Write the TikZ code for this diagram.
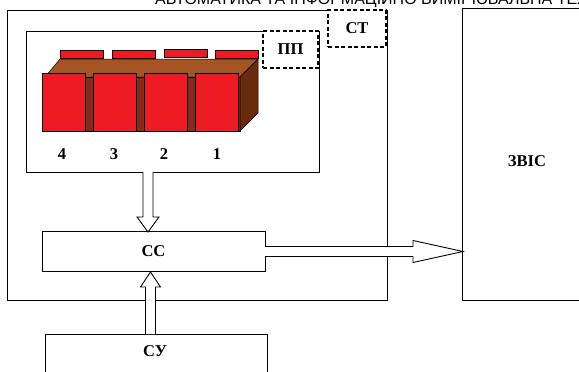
\documentclass[tikz,border=0pt]{standalone}
\usepackage{fontspec}
\setmainfont{Liberation Serif}
\newfontfamily\headfont{Liberation Sans}
\usetikzlibrary{calc}

\definecolor{keyred}{HTML}{ED1C24}
\definecolor{bodytop}{HTML}{A65424}
\definecolor{bodyfront}{HTML}{88291B}
\definecolor{bodyside}{HTML}{692B0E}

\tikzset{
  box/.style={draw, line width=0.8pt, fill=white, inner sep=0pt, font=\fontsize{16.5}{18}\selectfont\bfseries},
  dashbox/.style={box, dash pattern=on 4pt off 2.5pt, line width=1.6pt},
  key/.style={draw, line width=0.7pt, fill=keyred, inner sep=0pt},
  num/.style={inner sep=0pt, font=\fontsize{16.5}{18}\selectfont\bfseries},
  % #1 head length, #2 half width of the head, shaft is 10pt wide
  blockarrow/.style 2 args={draw, line width=0.9pt, fill=white, to path={
    ($(\tikztostart)!5pt!90:(\tikztotarget)$)
    -- ($(\tikztotarget)!#1!(\tikztostart)!5pt!-90:(\tikztostart)$)
    -- ($(\tikztotarget)!#1!(\tikztostart)!#2!-90:(\tikztostart)$)
    -- (\tikztotarget)
    -- ($(\tikztotarget)!#1!(\tikztostart)!#2!90:(\tikztostart)$)
    -- ($(\tikztotarget)!#1!(\tikztostart)!5pt!90:(\tikztostart)$)
    -- ($(\tikztostart)!5pt!-90:(\tikztotarget)$)}}
}

\begin{document}
\begin{tikzpicture}[x=1pt, y=-1pt]

  \useasboundingbox (0,0) rectangle (579,372);
  \clip (0,0) rectangle (579,372);

  \newcommand\KEYTOP{73};
  \newcommand\KEYH{58};

  \node[inner sep=0pt, anchor=base west, font=\fontsize{16}{16}\selectfont\headfont] (head) at (155,5)
  {АВТОМАТИКА ТА ІНФОРМАЦІЙНО ВИМІРЮВАЛЬНА ТЕХНІКА};

  \node[box, minimum width=380pt, minimum height=290pt] (st) at (197.5,155.5) {};
  \node[box, minimum width=293pt, minimum height=141pt] (pp) at (173,101.5) {};
  \node[box, minimum width=200pt, minimum height=292pt] (zvis) at (562,154) {};
  \node[num] (zvislabel) at (527,161) {ЗВІС};

  \node[dashbox, minimum width=55pt, minimum height=37pt] (pplabel) at (290.5,49.5) {ПП};
  \node[dashbox, minimum width=58pt, minimum height=36.5pt] (stlabel) at (357,28.5) {СТ};

  % keys at the back of the block
  \node[key, minimum width=43pt, minimum height=8pt] (back4) at (81.5,54) {};
  \node[key, minimum width=43pt, minimum height=8pt] (back3) at (133.5,54) {};
  \node[key, minimum width=43pt, minimum height=8pt] (back2) at (186,53.5) {};
  \node[key, minimum width=43pt, minimum height=8pt] (back1) at (236.5,54) {};

  % block body
  \draw[line width=0.5pt, fill=bodyfront] (45,77) rectangle (240,131);
  \draw[line width=0.5pt, fill=bodytop] (45,77) -- (60,59) -- (258,59) -- (240,77) -- cycle;
  \draw[line width=0.5pt, fill=bodyside] (240,77) -- (258,59) -- (258,113) -- (240,131) -- cycle;

  % keys in front
  \node[key, minimum width=43pt, minimum height=\KEYH pt] (key4) at (63.5,\KEYTOP+29.5) {};
  \node[key, minimum width=43pt, minimum height=\KEYH pt] (key3) at (114.5,\KEYTOP+29) {};
  \node[key, minimum width=43pt, minimum height=\KEYH pt] (key2) at (165.5,\KEYTOP+29.5) {};
  \node[key, minimum width=43pt, minimum height=\KEYH pt] (key1) at (216.5,\KEYTOP+29) {};

  \node[num] (n4) at (62,154) {4};
  \node[num] (n3) at (114,154) {3};
  \node[num] (n2) at (164,154) {2};
  \node[num] (n1) at (217,154) {1};

  \node[box, minimum width=223pt, minimum height=40pt] (cc) at (153.5,251) {СС};
  \node[box, minimum width=222pt, minimum height=70pt] (su) at (156,369) {};
  \node[num] (sulabel) at (155,351) {СУ};

  \coordinate (ppout) at (148,172);
  \coordinate (ccin) at (148,232);
  \coordinate (suout) at (150.5,334);
  \coordinate (ccup) at (150.5,272);
  \coordinate (ccout) at (265,251.5);
  \coordinate (zvisin) at (463,251.5);

  \draw[blockarrow={15pt}{11pt}] (ppout) to (ccin);
  \draw[blockarrow={15pt}{10pt}] (suout) to (ccup);
  \draw[blockarrow={50pt}{11pt}] (ccout) to (zvisin);

\end{tikzpicture}
\end{document}
